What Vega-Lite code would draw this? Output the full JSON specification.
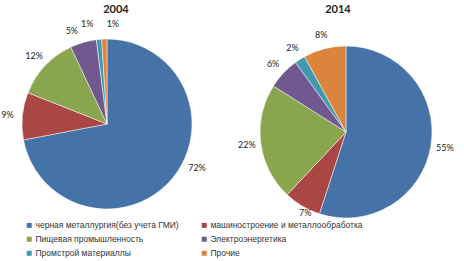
{
  "$schema": "https://vega.github.io/schema/vega-lite/v6.json",
  "padding": {"top": 3, "left": 0, "right": 0, "bottom": 0},
  "spacing": 14,
  "datasets": {
    "d2004": [
      {"cat": "черная  металлургия(без учета ГМИ)", "ord": 1, "value": 72, "label": "72%"},
      {"cat": "машиностроение и металлообработка", "ord": 2, "value": 9, "label": "9%"},
      {"cat": "Пищевая  промышленность", "ord": 3, "value": 12, "label": "12%"},
      {"cat": "Электроэнергетика", "ord": 4, "value": 5, "label": "5%"},
      {"cat": "Промстрой материаллы", "ord": 5, "value": 1, "label": "1%"},
      {"cat": "Прочие", "ord": 6, "value": 1, "label": "1%"}
    ],
    "d2014": [
      {"cat": "черная  металлургия(без учета ГМИ)", "ord": 1, "value": 55, "label": "55%"},
      {"cat": "машиностроение и металлообработка", "ord": 2, "value": 7, "label": "7%"},
      {"cat": "Пищевая  промышленность", "ord": 3, "value": 22, "label": "22%"},
      {"cat": "Электроэнергетика", "ord": 4, "value": 6, "label": "6%"},
      {"cat": "Промстрой материаллы", "ord": 5, "value": 2, "label": "2%"},
      {"cat": "Прочие", "ord": 6, "value": 8, "label": "8%"}
    ]
  },
  "hconcat": [
    {
      "width": 214,
      "height": 204,
      "title": {"text": "2004", "dx": 9},
      "data": {"name": "d2004"},
      "encoding": {
        "theta": {"field": "value", "type": "quantitative", "stack": true},
        "order": {"field": "ord", "type": "quantitative"},
        "color": {
          "field": "cat",
          "type": "nominal",
          "scale": {
            "domain": ["черная  металлургия(без учета ГМИ)", "машиностроение и металлообработка", "Пищевая  промышленность", "Электроэнергетика", "Промстрой материаллы", "Прочие"],
            "range": ["#4572A7", "#AA4643", "#89A54E", "#71588F", "#4198AF", "#DB843D"]
          }
        }
      },
      "layer": [
        {"mark": {"type": "arc", "outerRadius": 85, "stroke": "#ffffff", "strokeWidth": 0.5}},
        {
          "mark": {"type": "text", "radius": 100, "fontSize": 9, "font": "Lato", "fill": "#222222"},
          "encoding": {
            "text": {"condition": {"test": "datum.ord == 2 || datum.ord == 3", "field": "label"}, "value": ""},
            "color": {"value": "#222222"}
          }
        },
        {
          "mark": {"type": "text", "radius": 100, "thetaOffset": -0.24, "fontSize": 9, "font": "Lato", "fill": "#222222"},
          "encoding": {
            "text": {"condition": {"test": "datum.ord == 1", "field": "label"}, "value": ""},
            "color": {"value": "#222222"}
          }
        },
        {
          "mark": {"type": "text", "radius": 99, "thetaOffset": -0.08, "fontSize": 9, "font": "Lato", "fill": "#222222"},
          "encoding": {
            "text": {"condition": {"test": "datum.ord == 4", "field": "label"}, "value": ""},
            "color": {"value": "#222222"}
          }
        },
        {
          "mark": {"type": "text", "radius": 102, "thetaOffset": -0.1, "fontSize": 9, "font": "Lato", "fill": "#222222"},
          "encoding": {
            "text": {"condition": {"test": "datum.ord == 5", "field": "label"}, "value": ""},
            "color": {"value": "#222222"}
          }
        },
        {
          "mark": {"type": "text", "radius": 100, "thetaOffset": 0.09, "fontSize": 9, "font": "Lato", "fill": "#222222"},
          "encoding": {
            "text": {"condition": {"test": "datum.ord == 6", "field": "label"}, "value": ""},
            "color": {"value": "#222222"}
          }
        }
      ]
    },
    {
      "width": 236,
      "height": 220,
      "title": {"text": "2014", "dx": -8, "dy": -3},
      "data": {"name": "d2014"},
      "encoding": {
        "theta": {"field": "value", "type": "quantitative", "stack": true},
        "order": {"field": "ord", "type": "quantitative"},
        "color": {"field": "cat", "type": "nominal"}
      },
      "layer": [
        {"mark": {"type": "arc", "outerRadius": 86, "stroke": "#ffffff", "strokeWidth": 0.5}},
        {
          "mark": {"type": "text", "radius": 100, "fontSize": 9, "font": "Lato", "fill": "#222222"},
          "encoding": {
            "text": {"condition": {"test": "datum.ord != 2", "field": "label"}, "value": ""},
            "color": {"value": "#222222"}
          }
        },
        {
          "mark": {"type": "text", "radius": 91, "thetaOffset": -0.07, "fontSize": 9, "font": "Lato", "fill": "#222222"},
          "encoding": {
            "text": {"condition": {"test": "datum.ord == 2", "field": "label"}, "value": ""},
            "color": {"value": "#222222"}
          }
        }
      ]
    }
  ],
  "resolve": {"scale": {"color": "shared"}},
  "config": {
    "view": {"stroke": null},
    "title": {"fontSize": 11, "font": "Lato", "fontWeight": "bold", "color": "#222222", "offset": 4},
    "legend": {
      "orient": "none",
      "legendX": 25,
      "legendY": 199,
      "direction": "horizontal",
      "columns": 2,
      "title": null,
      "symbolType": "square",
      "symbolSize": 25,
      "symbolStrokeWidth": 0,
      "labelFontSize": 8.5,
      "labelFont": "Liberation Sans",
      "labelColor": "#333333",
      "labelOffset": 2,
      "rowPadding": 5,
      "columnPadding": 18,
      "labelLimit": 300
    }
  }
}
